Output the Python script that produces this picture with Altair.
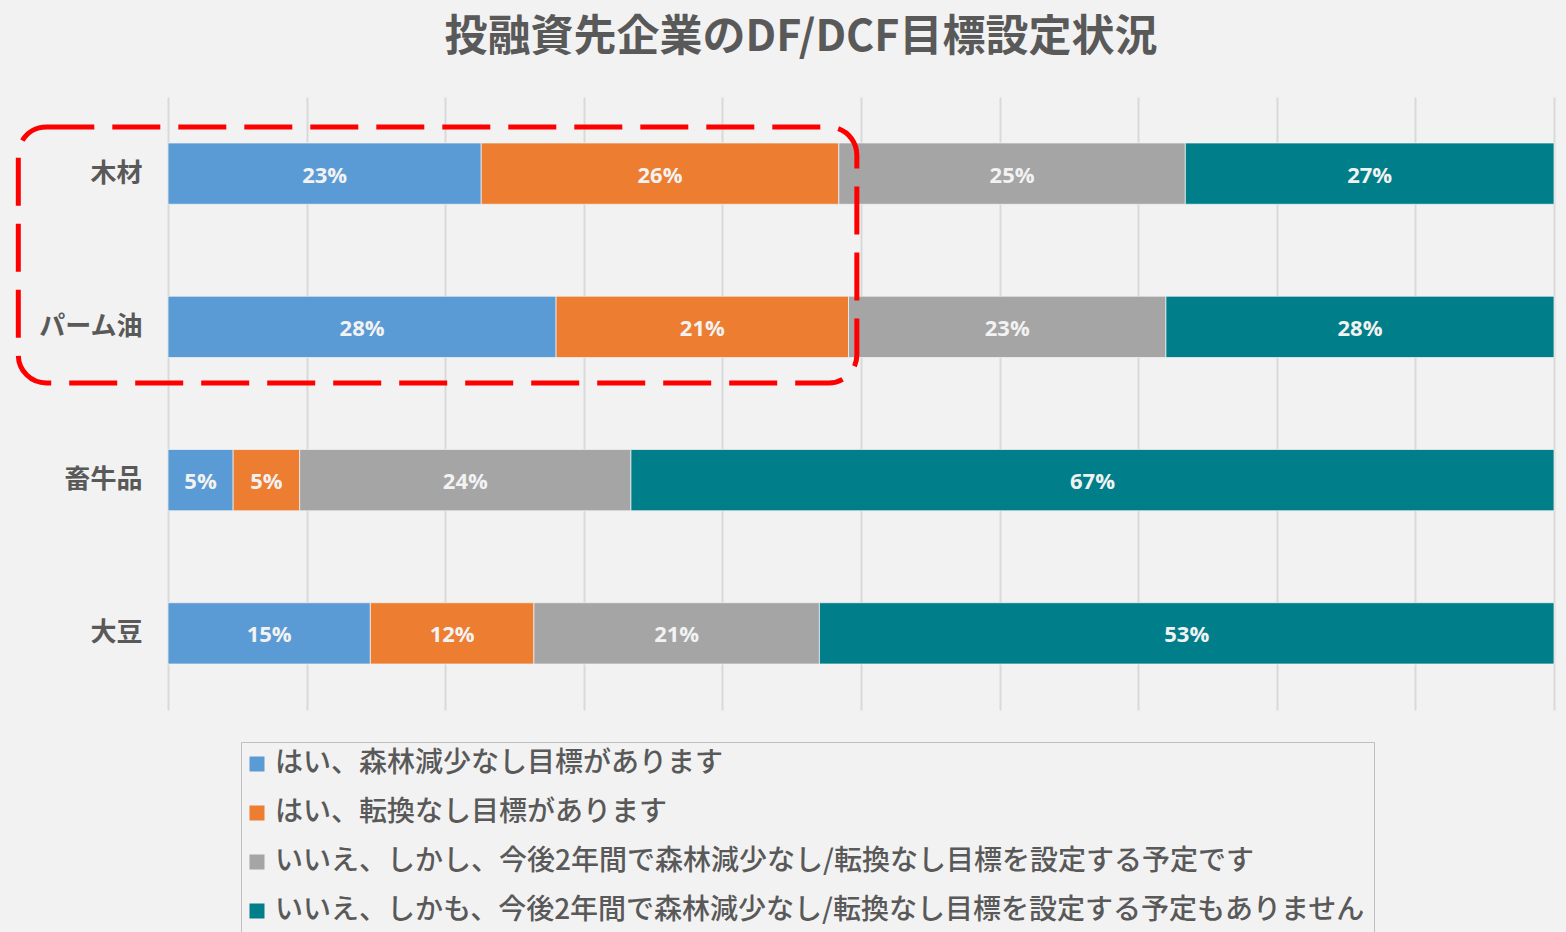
import altair as alt
import pandas as pd

categories = ["木材", "パーム油", "畜牛品", "大豆"]
series = [
    "はい、森林減少なし目標があります",
    "はい、転換なし目標があります",
    "いいえ、しかし、今後2年間で森林減少なし/転換なし目標を設定する予定です",
    "いいえ、しかも、今後2年間で森林減少なし/転換なし目標を設定する予定もありません",
]
colors = ["#5b9bd5", "#ed7d31", "#a5a5a5", "#007f8a"]

# percent values per category (order: 木材, パーム油, 畜牛品, 大豆)
yes_deforestation = [22.6, 28.0, 4.7, 14.6]
yes_conversion = [25.8, 21.1, 4.8, 11.8]
no_but_planned = [25.0, 22.9, 23.9, 20.6]
no_and_no_plan = [26.6, 28.0, 66.6, 53.0]

# highlight box (x in share-of-total units)
box_x_start = [-0.108]
box_x_end = [0.497]

grid_values = [i / 10 for i in range(11)]

rows = []
for s_idx, (name, vals) in enumerate(zip(series, [yes_deforestation, yes_conversion, no_but_planned, no_and_no_plan])):
    for cat, v in zip(categories, vals):
        rows.append({"cat": cat, "series": name, "order": s_idx, "value": v})
df = pd.DataFrame(rows)

FONT = "Noto Sans CJK JP"

base = alt.Chart(df).transform_stack(
    stack="value", groupby=["cat"], as_=["x0", "x1"], offset="normalize",
    sort=[alt.SortField("order", order="ascending")]
)

y_enc = alt.Y(
    "cat:N", sort=categories,
    scale=alt.Scale(paddingInner=0.6, paddingOuter=0.3),
    axis=alt.Axis(title=None, domain=False, ticks=False, labelFontSize=26, labelFont=FONT,
                  labelFontWeight="bold", labelColor="#595959", labelPadding=26),
)

bars = base.mark_bar(stroke="#f2f2f2", strokeWidth=0.75).encode(
    y=y_enc,
    x=alt.X("x0:Q", scale=alt.Scale(domain=[0, 1], nice=False, zero=False),
            axis=alt.Axis(values=grid_values, labels=False, ticks=False, domain=False, title=None,
                          grid=True, gridColor="#d9d9d9", gridWidth=2)),
    x2="x1:Q",
    color=alt.Color(
        "series:N", scale=alt.Scale(domain=series, range=colors),
        legend=alt.Legend(
            title=None, orient="none", legendX=73, legendY=645, direction="vertical",
            symbolType="square", symbolSize=225, symbolStrokeWidth=0, symbolOffset=-6,
            labelFontSize=28, labelFont=FONT, labelFontWeight=500, labelColor="#595959",
            labelLimit=1400, rowPadding=21, padding=8, strokeColor="#bfbfbf", labelOffset=4,
            fillColor="#f2f2f2",
        ),
    ),
)

labels = base.transform_calculate(
    mid="(datum.x0 + datum.x1) / 2", frac="datum.value / 100"
).mark_text(font="Open Sans", fontWeight="bold", fontSize=22, color="#f2f2f2", dy=2).encode(
    y=y_enc,
    x=alt.X("mid:Q"),
    text=alt.Text("frac:Q", format=".0%"),
)

box = alt.Chart(pd.DataFrame({"xs": box_x_start, "xe": box_x_end})).mark_rect(
    fillOpacity=0, stroke="#ff0000", strokeWidth=5, strokeDash=[48, 18], cornerRadius=28, clip=False
).encode(
    x="xs:Q", x2="xe:Q", y=alt.value(30), y2=alt.value(286)
)

chart = alt.layer(bars, labels, box).properties(
    width=1386, height=613,
    padding={"left": 168, "top": 97, "right": 12, "bottom": 222},
    autosize=alt.AutoSizeParams(type="none"),
    background="#f2f2f2",
    title=alt.TitleParams(
        "投融資先企業のDF/DCF目標設定状況", fontSize=43, font=FONT, fontWeight="bold",
        color="#595959", anchor="middle", dx=-60, offset=37,
    ),
).configure_view(stroke=None)

chart.save("out.html", embed_options={"renderer": "svg", "actions": False})
